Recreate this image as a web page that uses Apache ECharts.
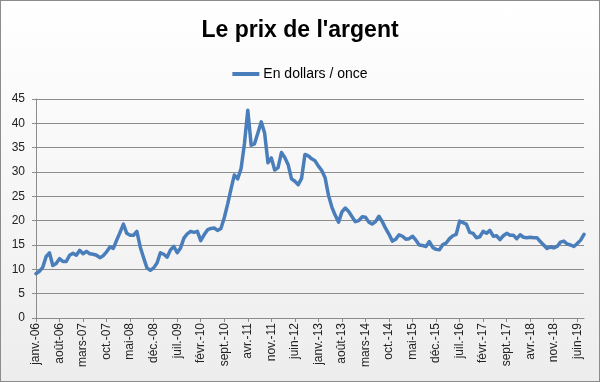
<!DOCTYPE html>
<html>
<head>
<meta charset="utf-8">
<script src="https://cdn.jsdelivr.net/npm/echarts@6/dist/echarts.min.js"></script>
<style>
html,body{margin:0;padding:0;}
#wrap{width:600px;height:382px;box-sizing:border-box;border:1px solid #8c8c8c;background:linear-gradient(#ffffff,#ededed);}
#chart{width:598px;height:380px;}
</style>
</head>
<body>
<div id="wrap"><div id="chart"></div></div>
<script>
var monthNames = ['janv.','févr.','mars','avr.','mai','juin','juil.','août','sept.','oct.','nov.','déc.'];
var years = ['06','07','08','09','10','11','12','13','14','15','16','17','18','19'];
var lastYearMonths = 8;

var prices2006 = [9.1, 9.6, 10.4, 12.6, 13.4, 10.8, 11.2, 12.2, 11.6, 11.6, 12.9, 13.3];
var prices2007 = [12.9, 13.9, 13.2, 13.7, 13.2, 13.1, 12.9, 12.4, 12.8, 13.6, 14.6, 14.3];
var prices2008 = [16.0, 17.6, 19.3, 17.4, 17.0, 17.0, 17.8, 14.6, 12.4, 10.3, 9.8, 10.3];
var prices2009 = [11.3, 13.4, 13.1, 12.5, 14.0, 14.7, 13.4, 14.4, 16.4, 17.3, 17.8, 17.6];
var prices2010 = [17.8, 15.9, 17.1, 18.1, 18.4, 18.5, 18.0, 18.4, 20.6, 23.4, 26.5, 29.4];
var prices2011 = [28.6, 30.7, 35.8, 42.7, 35.5, 35.8, 38.0, 40.3, 38.0, 31.9, 32.9, 30.4];
var prices2012 = [30.9, 34.0, 33.0, 31.5, 28.6, 28.1, 27.4, 28.7, 33.6, 33.3, 32.7, 32.3];
var prices2013 = [31.2, 30.3, 28.8, 25.2, 22.8, 21.1, 19.7, 21.8, 22.6, 21.9, 20.8, 19.8];
var prices2014 = [20.0, 20.8, 20.7, 19.7, 19.3, 19.8, 20.9, 19.8, 18.4, 17.2, 15.8, 16.2];
var prices2015 = [17.1, 16.8, 16.2, 16.3, 16.8, 16.0, 15.0, 14.9, 14.7, 15.7, 14.5, 14.1];
var prices2016 = [14.0, 15.1, 15.4, 16.3, 16.9, 17.2, 19.9, 19.6, 19.3, 17.6, 17.4, 16.5];
var prices2017 = [16.7, 17.8, 17.4, 18.0, 16.8, 16.9, 16.1, 16.9, 17.4, 17.0, 17.0, 16.3];
var prices2018 = [17.1, 16.6, 16.5, 16.6, 16.5, 16.5, 15.7, 15.0, 14.3, 14.6, 14.4, 14.7];
var prices2019 = [15.6, 15.8, 15.2, 15.0, 14.7, 15.3, 16.0, 17.2];

var seriesName = 'En dollars / once';
var yTicks = [0, 5, 10, 15, 20, 25, 30, 35, 40, 45];

var values = [].concat(prices2006, prices2007, prices2008, prices2009, prices2010,
  prices2011, prices2012, prices2013, prices2014, prices2015, prices2016,
  prices2017, prices2018, prices2019);

var categories = [];
years.forEach(function (y, yi) {
  var n = (yi === years.length - 1) ? lastYearMonths : 12;
  for (var m = 0; m < n; m++) {
    categories.push(monthNames[m] + '-' + y);
  }
});

var chart = echarts.init(document.getElementById('chart'));
var font = '"Liberation Sans", "DejaVu Sans", sans-serif';
chart.setOption({
  backgroundColor: 'transparent',
  animation: false,
  title: {
    text: "Le prix de l'argent",
    left: 'center',
    top: 13,
    textStyle: { fontFamily: font, fontSize: 23, fontWeight: 'bold', color: '#000' }
  },
  legend: {
    data: [seriesName],
    top: 61,
    left: 'center',
    itemWidth: 27,
    itemHeight: 4,
    itemGap: 5,
    icon: 'rect',
    textStyle: { fontFamily: font, fontSize: 14, color: '#000', padding: [0, 0, 0, -1] }
  },
  grid: { left: 35, right: 15, top: 98, bottom: 63, containLabel: false },
  xAxis: {
    type: 'category',
    data: categories,
    boundaryGap: false,
    axisLine: { lineStyle: { color: '#8c8c8c', width: 1 } },
    axisTick: { show: true, interval: 6, length: 4, lineStyle: { color: '#8c8c8c' } },
    axisLabel: {
      interval: 6,
      rotate: 90,
      margin: 5,
      fontFamily: font,
      fontSize: 12,
      color: '#222'
    },
    splitLine: { show: false }
  },
  yAxis: {
    type: 'value',
    min: yTicks[0],
    max: yTicks[yTicks.length - 1],
    interval: 5,
    axisLine: { show: true, lineStyle: { color: '#8c8c8c', width: 1 } },
    axisTick: { show: true, length: 4, lineStyle: { color: '#8c8c8c' } },
    axisLabel: { fontFamily: font, fontSize: 12, color: '#222', margin: 11 },
    splitLine: { show: true, lineStyle: { color: '#8c8c8c', width: 1 } }
  },
  series: [{
    name: seriesName,
    type: 'line',
    data: values,
    showSymbol: false,
    symbol: 'none',
    lineStyle: { color: '#4A7EBB', width: 3.5, join: 'round', cap: 'round' },
    itemStyle: { color: '#4A7EBB' }
  }]
});
</script>
</body>
</html>
